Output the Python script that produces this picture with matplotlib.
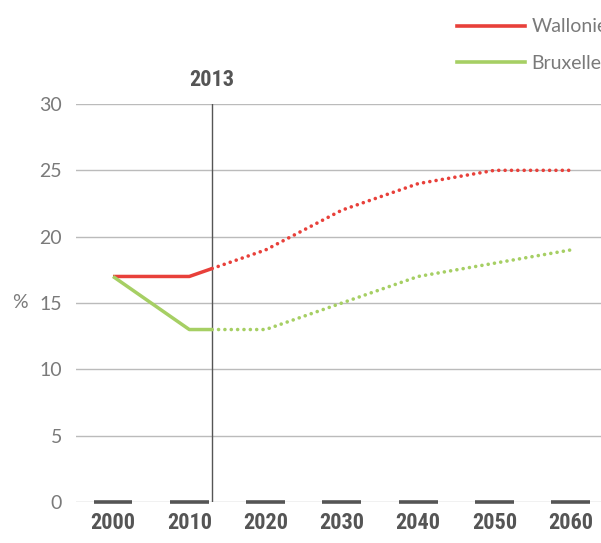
import numpy as np
import matplotlib
matplotlib.use("Agg")
import matplotlib.pyplot as plt
from matplotlib.lines import Line2D
from matplotlib import font_manager

# data
years = [2000, 2010, 2020, 2030, 2040, 2050, 2060]
year_labels = ["2000", "2010", "2020", "2030", "2040", "2050", "2060"]
marker_year = 2013

wal_obs_x = [2000, 2010, 2013]
wal_obs_y = [17, 17, 17.6]
wal_proj_x = [2013, 2020, 2030, 2040, 2050, 2060]
wal_proj_y = [17.6, 19, 22, 24, 25, 25]

bru_obs_x = [2000, 2010, 2013]
bru_obs_y = [17, 13, 13]
bru_proj_x = [2013, 2020, 2030, 2040, 2050, 2060]
bru_proj_y = [13, 13, 15, 17, 18, 19]

yticks = [0, 5, 10, 15, 20, 25, 30]

RED = "#E8403A"
GREEN = "#A6CF64"
GRID = "#BBBBBB"
DARK = "#555555"
LABEL = "#7A7A7A"

names = {f.name for f in font_manager.fontManager.ttflist}
narrow = "Roboto Condensed" if "Roboto Condensed" in names else "Roboto"
light = "Lato"

W, H = 601, 543
fig = plt.figure(figsize=(W / 100, H / 100), dpi=100)
ax = fig.add_axes([76 / W, 41 / H, (W - 76) / W, (502 - 104) / H])

ax.set_xlim(1995.15, 2063.96)
ax.set_ylim(0, 30)

for s in ax.spines.values():
    s.set_visible(False)

for y in yticks:
    ax.axhline(y, color=GRID, lw=1.0, zorder=1)

ax.axvline(marker_year, color=DARK, lw=1.0, zorder=2)
ax.text(marker_year, 30.95, str(marker_year), ha="center", va="bottom",
        fontsize=16, fontweight="bold", family=narrow, color=DARK)

# baseline bars under each year
for yr in years:
    ax.plot([yr - 2.55, yr + 2.55], [0, 0], color=DARK, lw=2.6,
            solid_capstyle="butt", clip_on=False, zorder=3)

dot = (0, (0.01, 1.75))
ax.plot(wal_obs_x, wal_obs_y, color=RED, lw=2.5, zorder=4,
        solid_capstyle="butt")
ax.plot(wal_proj_x, wal_proj_y, color=RED, lw=2.6, ls=dot,
        dash_capstyle="round", zorder=4)
ax.plot(bru_obs_x, bru_obs_y, color=GREEN, lw=2.5, zorder=4,
        solid_capstyle="butt")
ax.plot(bru_proj_x, bru_proj_y, color=GREEN, lw=2.6, ls=dot,
        dash_capstyle="round", zorder=4)

ax.set_yticks(yticks)
ax.set_yticklabels([str(v) for v in yticks], fontsize=14, color=LABEL,
                   family=light)
ax.set_xticks(years)
ax.set_xticklabels(year_labels, fontsize=16, fontweight="bold",
                   family=narrow, color=DARK)
ax.tick_params(axis="both", length=0)
ax.tick_params(axis="y", pad=10)
ax.tick_params(axis="x", pad=7)

fig.text(20 / W, 1 - 303 / H, "%", ha="center", va="center",
         fontsize=14, color=LABEL, family=light)

handles = [Line2D([0], [0], color=RED, lw=2.6),
           Line2D([0], [0], color=GREEN, lw=2.6)]
fig.legend(handles, ["Wallonie", "Bruxelles"], loc="upper left",
           bbox_to_anchor=(439 / W, 1 - 1 / H), frameon=False,
           prop=dict(family=light, size=14),
           labelcolor=LABEL, handlelength=3.5,
           handletextpad=0.35, labelspacing=1.0)

fig.savefig("out.png", dpi=100)
